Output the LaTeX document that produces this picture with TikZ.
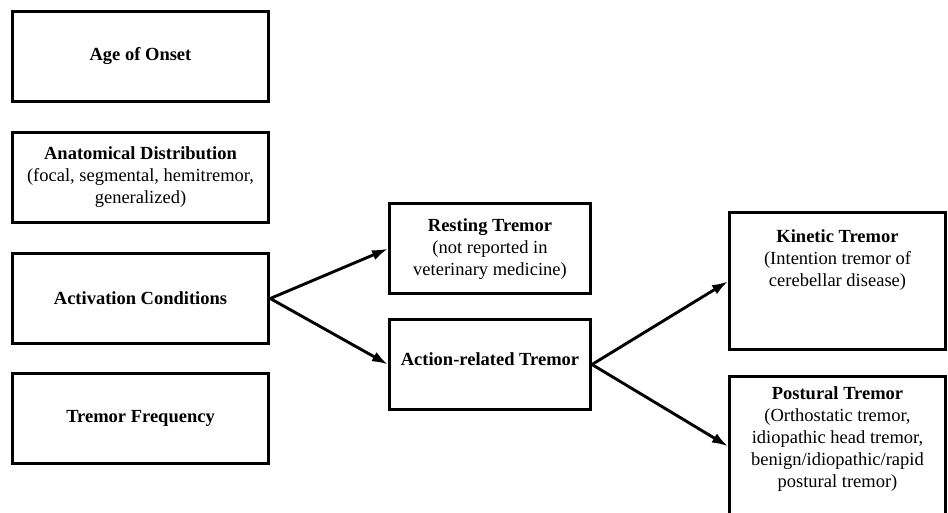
\documentclass[tikz,border=0pt]{standalone}
\usepackage{fontspec}
\setmainfont{Liberation Serif}
\usetikzlibrary{arrows.meta}

\begin{document}
\begin{tikzpicture}
  [x=1pt,y=-1pt,font=\fontsize{18.5}{22}\selectfont,
   every node/.style={draw,line width=3pt,align=center,inner sep=0pt},
   txt/.style={draw=none},
   arr/.style={line width=2.9pt,-{Latex[length=16pt,width=10.5pt]}}]
  \useasboundingbox (0,0) rectangle (948,512);

  \node[minimum width=256.5pt,minimum height=90pt] (age) at (140.5,56.5) {\textbf{Age of Onset}};
  \node[minimum width=256.5pt,minimum height=90pt] (anat) at (140.5,177.5) {\textbf{Anatomical Distribution}\\(focal, segmental, hemitremor,\\generalized)};
  \node[minimum width=256.5pt,minimum height=90pt] (act) at (140.5,298.5) {\textbf{Activation Conditions}};
  \node[minimum width=256.5pt,minimum height=90pt] (freq) at (140.5,418.3) {\textbf{Tremor Frequency}};

  \node[minimum width=201pt,minimum height=90pt] (rest) at (490,248.7) {\textbf{Resting Tremor}\\(not reported in\\veterinary medicine)};
  \node[minimum width=201pt,minimum height=90pt,text depth=11pt] (action) at (490,364.5) {\textbf{Action-related Tremor}};

  \node[minimum width=216pt,minimum height=136.7pt] (kin) at (837.5,281.3) {};
  \node[txt,anchor=north] (kintxt) at ([yshift=-16.8pt]kin.north) {\textbf{Kinetic Tremor}\\(Intention tremor of\\cerebellar disease)};
  \node[minimum width=216pt,minimum height=140pt] (post) at (837.5,446.3) {};
  \node[txt,anchor=north] (posttxt) at ([yshift=-10.5pt]post.north) {\textbf{Postural Tremor}\\(Orthostatic tremor,\\idiopathic head tremor,\\benign/idiopathic/rapid\\postural tremor)};

  \foreach \from/\to in {act/rest,act/action,action/kin,action/post}
    \draw[arr] (\from.east) -- (\to.west);

\end{tikzpicture}
\end{document}
